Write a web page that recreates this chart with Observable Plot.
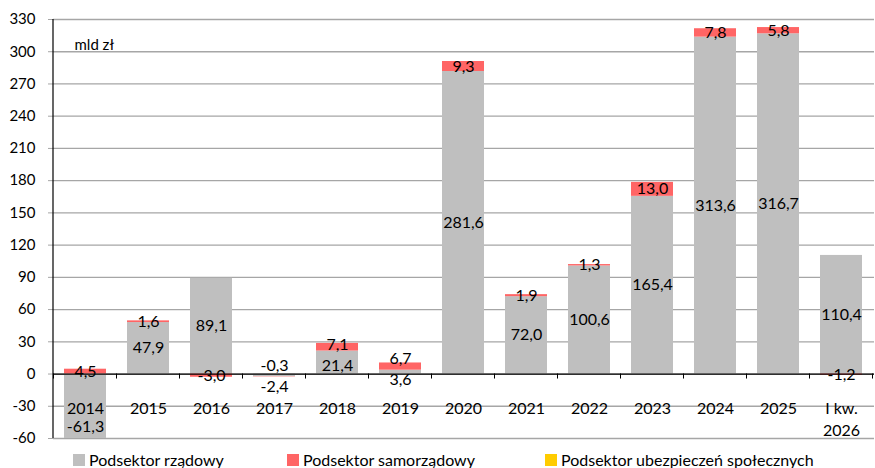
<!DOCTYPE html>
<html>
<head>
<meta charset="utf-8">
<script src="https://cdn.jsdelivr.net/npm/d3@7"></script>
<script src="https://cdn.jsdelivr.net/npm/@observablehq/plot@0.6"></script>
<style>
  html, body { margin: 0; padding: 0; background: #fff; overflow: hidden; }
  #wrap { position: relative; width: 875px; height: 468px; }
  #legend { position: absolute; left: 0; top: 450px; width: 875px; font-family: Lato, sans-serif; font-size: 16px; line-height: 20px; color: #000; white-space: nowrap; }
  #legend span.item { position: absolute; top: 0; }
  #legend i { display: inline-block; width: 12px; height: 12px; margin-right: 4px; vertical-align: baseline; }
</style>
</head>
<body>
<div id="wrap"><div id="chart"></div><div id="legend"></div></div>
<script>
const categories = ["2014","2015","2016","2017","2018","2019","2020","2021","2022","2023","2024","2025","I kw.\n2026"];
const seriesNames = ["Podsektor rządowy","Podsektor samorządowy","Podsektor ubezpieczeń społecznych"];
const rzadowy    = [-61.3, 47.9, 89.1, -2.4, 21.4, 3.6, 281.6, 72.0, 100.6, 165.4, 313.6, 316.7, 110.4];
const samorzadowy = [4.5, 1.6, -3.0, -0.3, 7.1, 6.7, 9.3, 1.9, 1.3, 13.0, 7.8, 5.8, -1.2];
const ubezpieczen = [0, 0, 0, 0, 0, 0, 0, 0, 0, 0, 0, 0, 0];
const yTicks = [-60, -30, 0, 30, 60, 90, 120, 150, 180, 210, 240, 270, 300, 330];
const colors = ["#bfbfbf", "#ff6565", "#ffcc00"];
const unitLabel = "mld zł";

const values = [rzadowy, samorzadowy, ubezpieczen];
const W = 875, H = 440, mt = 19, mb = 2, ml = 53, mr = 1;
const yMin = -60, yMax = 330;
const k = (H - mt - mb) / (yMax - yMin);
const toPx = v => mt + (yMax - v) * k;
const fromPx = p => yMax - (p - mt) / k;
const fmt = v => v.toFixed(1).replace(".", ",");

const rows = categories.flatMap((c, i) => seriesNames.map((s, j) => ({cat: c, series: s, si: j, value: values[j][i]})));

// label positions: centre of each stacked segment (visible part), then simple collision avoidance
const labels = [];
const axisLabelPx = toPx(0) + 29;
categories.forEach((c, i) => {
  let pos = 0, neg = 0;
  const L = [];
  seriesNames.forEach((s, j) => {
    const v = values[j][i];
    if (!v) return;
    let lo, hi;
    if (v >= 0) { lo = pos; hi = pos + v; pos = hi; } else { hi = neg; lo = neg + v; neg = lo; }
    lo = Math.max(lo, yMin); hi = Math.min(hi, yMax);
    L.push({cat: c, si: j, text: fmt(v), px: toPx((lo + hi) / 2)});
  });
  const minSep = 21;
  for (let a = 0; a + 1 < L.length; a++) {
    const p = L[a], q = L[a + 1];
    if (Math.abs(p.px - q.px) < minSep) {
      const mid = (p.px + q.px) / 2;
      p.px = mid + minSep / 2; q.px = mid - minSep / 2;
    }
  }
  L.forEach(l => {
    if (Math.abs(l.px - axisLabelPx) < 10) l.px = axisLabelPx + 24;
    labels.push({cat: l.cat, text: l.text, y: fromPx(l.px)});
  });
});

const catRows = categories.map(c => ({cat: c, y: 0}));

function axisLines(index, scales, vals, dims) {
  const x = scales.x, y = scales.y;
  const g = d3.create("svg:g");
  const bw = x.bandwidth();
  const step = x(categories[1]) - x(categories[0]);
  const y0 = y(0);
  const bounds = categories.map(c => x(c) - (step - bw) / 2);
  bounds.push(x(categories[categories.length - 1]) + bw + (step - bw) / 2);
  bounds.forEach(b => {
    g.append("line").attr("x1", b).attr("x2", b).attr("y1", y0).attr("y2", y0 + 5)
      .attr("stroke", "#000").attr("stroke-width", 1);
  });
  g.append("line").attr("x1", dims.marginLeft).attr("x2", dims.marginLeft)
    .attr("y1", y(yMax)).attr("y2", y(yMin)).attr("stroke", "#000").attr("stroke-width", 1.2);
  return g.node();
}

const chart = Plot.plot({
  width: W, height: H,
  marginTop: mt, marginBottom: mb, marginLeft: ml, marginRight: mr,
  style: {fontFamily: "Lato, sans-serif", fontSize: "16px", background: "#fff", color: "#000", overflow: "visible"},
  x: {type: "band", domain: categories, paddingInner: 0.33, paddingOuter: 0.165, axis: null},
  y: {domain: [yMin, yMax]},
  color: {domain: seriesNames, range: colors},
  marks: [
    Plot.gridY(yTicks, {stroke: "#a6a6a6", strokeOpacity: 1, strokeWidth: 1.3}),
    Plot.axisY(yTicks, {tickSize: 5, tickPadding: 13, stroke: "#a6a6a6", fill: "#000", fontSize: 15, tickFormat: d => String(d), label: null}),
    Plot.barY(rows, {x: "cat", y: "value", fill: "series", clip: true}),
    Plot.ruleY([0], {stroke: "#000", strokeWidth: 1.3}),
    axisLines,
    Plot.text(catRows, {x: "cat", y: "y", text: d => d.cat, lineAnchor: "top", dy: 24, lineHeight: 1.375, fontSize: 16, fill: "#000"}),
    Plot.text(labels, {x: "cat", y: "y", text: "text", fontSize: 16, fill: "#000"}),
    Plot.text([unitLabel], {frameAnchor: "top-left", textAnchor: "start", dx: 21, dy: 19.5, fontSize: 15, fill: "#000"})
  ]
});
document.getElementById("chart").appendChild(chart);

const legendLefts = [73, 287, 545];
const legend = document.getElementById("legend");
seriesNames.forEach((s, j) => {
  const item = document.createElement("span");
  item.className = "item";
  item.style.left = legendLefts[j] + "px";
  const sw = document.createElement("i");
  sw.style.background = colors[j];
  item.appendChild(sw);
  item.appendChild(document.createTextNode(s));
  legend.appendChild(item);
});
</script>
</body>
</html>
